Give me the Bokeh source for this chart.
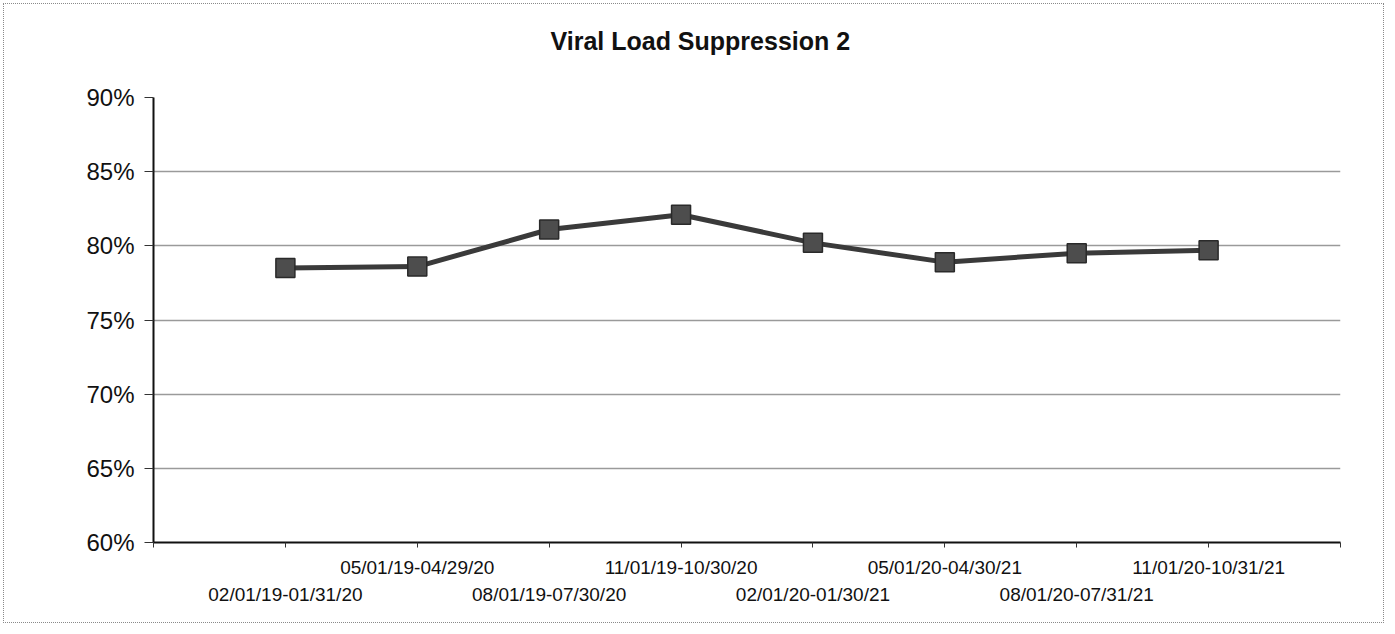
from bokeh.plotting import figure
from bokeh.models import Range1d, FixedTicker, LinearAxis, PrintfTickFormatter, InlineStyleSheet, Title
from bokeh.embed import file_html
from bokeh.resources import INLINE

title_text = "Viral Load Suppression 2"
periods = ["02/01/19-01/31/20", "05/01/19-04/29/20", "08/01/19-07/30/20",
           "11/01/19-10/30/20", "02/01/20-01/30/21", "05/01/20-04/30/21",
           "08/01/20-07/31/21", "11/01/20-10/31/21"]
suppression = [78.5, 78.6, 81.1, 82.1, 80.2, 78.9, 79.5, 79.7]
y_ticks = [60, 65, 70, 75, 80, 85, 90]

xs = list(range(1, len(periods) + 1))
n_slots = len(periods) + 1

FONT = "Liberation Sans"

p = figure(width=1387, height=626, output_backend="svg", toolbar_location=None,
           x_range=Range1d(0, n_slots), y_range=Range1d(y_ticks[0], y_ticks[-1]),
           min_border_left=153, min_border_right=47, min_border_top=97, min_border_bottom=84,
           x_axis_location=None, y_axis_location=None)
p.outline_line_color = None
p.background_fill_color = "white"
p.border_fill_color = None
p.stylesheets = [InlineStyleSheet(css=":host { outline: 1px dotted #8a8a8a; outline-offset: -4px; }")]

p.title.text = title_text
p.title.align = "left"
p.title.offset = 397
p.title.text_font = FONT
p.title.text_font_size = "25px"
p.title.text_font_style = "bold"
p.title.text_color = "#111111"
p.title.standoff = 0

# spacer between the title and the plot frame
spacer = Title(text=" ", text_font_size="10px", standoff=30)
p.add_layout(spacer, "above")

# y axis
yax = LinearAxis(ticker=FixedTicker(ticks=y_ticks), formatter=PrintfTickFormatter(format="%d%%"))
yax.axis_line_color = "#111111"
yax.axis_line_width = 2
yax.major_tick_out = 9
yax.major_tick_in = 0
yax.minor_tick_out = 0
yax.minor_tick_in = 0
yax.major_tick_line_color = "#333333"
yax.major_label_text_font = FONT
yax.major_label_text_font_size = "24px"
yax.major_label_text_color = "#111111"
yax.major_label_standoff = 10
p.add_layout(yax, "left")

# x axis, first row of labels
row1 = {i: (periods[i - 1] if 1 <= i <= len(periods) and i % 2 == 0 else "")
        for i in range(0, n_slots + 1)}
xax1 = LinearAxis(ticker=FixedTicker(ticks=list(range(0, n_slots + 1))), major_label_overrides=row1)
xax1.axis_line_color = "#111111"
xax1.axis_line_width = 2
xax1.major_tick_out = 5
xax1.major_tick_in = 0
xax1.minor_tick_out = 0
xax1.minor_tick_in = 0
xax1.major_tick_line_color = "#333333"
xax1.major_label_text_font = FONT
xax1.major_label_text_font_size = "19px"
xax1.major_label_text_color = "#111111"
xax1.major_label_standoff = 9
p.add_layout(xax1, "below")

# x axis, second (staggered) row of labels
odd_ticks = [i for i in xs if i % 2 == 1]
row2 = {i: periods[i - 1] for i in odd_ticks}
xax2 = LinearAxis(ticker=FixedTicker(ticks=odd_ticks), major_label_overrides=row2)
xax2.axis_line_color = None
xax2.major_tick_line_color = None
xax2.minor_tick_line_color = None
xax2.major_tick_out = 0
xax2.major_tick_in = 0
xax2.minor_tick_out = 0
xax2.minor_tick_in = 0
xax2.major_label_text_font = FONT
xax2.major_label_text_font_size = "19px"
xax2.major_label_text_color = "#111111"
xax2.major_label_standoff = 3
p.add_layout(xax2, "below")

# grid
p.ygrid.ticker = FixedTicker(ticks=y_ticks[1:])
p.ygrid.grid_line_color = "#9a9a9a"
p.ygrid.grid_line_width = 1.5
p.xgrid.grid_line_color = None

p.line(xs, suppression, line_color="#3a3a3a", line_width=5)
p.scatter(xs, suppression, marker="square", size=19, fill_color="#4d4d4d",
          line_color="#2a2a2a", line_width=1.5)

open("out.html", "w").write(file_html(p, INLINE))
